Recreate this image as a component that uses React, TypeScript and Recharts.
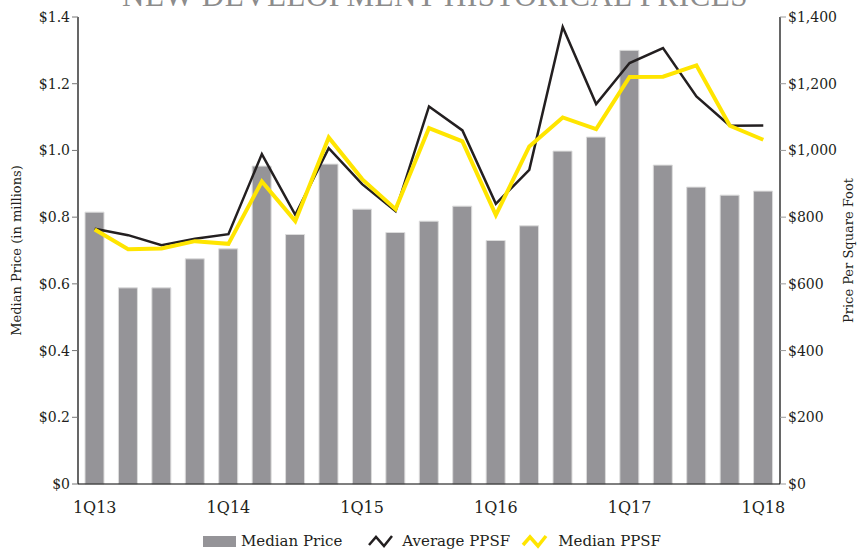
import React from "react";
import { Bar, ComposedChart, Legend, Line, XAxis, YAxis } from "recharts";

// quarterly values, 1Q13 .. 1Q18
const quarters = [
  "1Q13", "2Q13", "3Q13", "4Q13",
  "1Q14", "2Q14", "3Q14", "4Q14",
  "1Q15", "2Q15", "3Q15", "4Q15",
  "1Q16", "2Q16", "3Q16", "4Q16",
  "1Q17", "2Q17", "3Q17", "4Q17",
  "1Q18",
];
const medianPrice = [
  0.815, 0.588, 0.588, 0.675, 0.705, 0.953, 0.748, 0.959, 0.824, 0.754, 0.788,
  0.833, 0.73, 0.774, 0.998, 1.04, 1.3, 0.956, 0.89, 0.866, 0.878,
];
const averagePpsf = [
  765, 746, 716, 735, 749, 989, 807, 1007, 899, 818, 1132, 1060, 840, 942, 1370,
  1139, 1262, 1307, 1162, 1074, 1075,
];
const medianPpsf = [
  763, 704, 706, 728, 720, 907, 788, 1039, 914, 824, 1067, 1027, 806, 1012, 1099,
  1064, 1220, 1221, 1255, 1074, 1032,
];
const leftTicks = [0, 0.2, 0.4, 0.6, 0.8, 1.0, 1.2, 1.4];
const rightTicks = [0, 200, 400, 600, 800, 1000, 1200, 1400];
const xTicks = ["1Q13", "1Q14", "1Q15", "1Q16", "1Q17", "1Q18"];

const data = quarters.map((q, i) => ({
  name: q,
  medianPrice: medianPrice[i],
  averagePpsf: averagePpsf[i],
  medianPpsf: medianPpsf[i],
}));

const FONT = "'DejaVu Serif', 'Liberation Serif', serif";
const TITLE_FONT = "'Liberation Serif', serif";
const TEXT = "#231f20";
const BAR = "#959498";
const BLACK = "#231f20";
const YELLOW = "#ffe500";

const Zigzag = ({ color, width }: { color: string; width: number }) => (
  <svg width={30} height={18} style={{ verticalAlign: "middle" }}>
    <path d="M3,13 L10,5 L18,14 L26,4" fill="none" stroke={color} strokeWidth={width} />
  </svg>
);

const renderLegend = () => (
  <div
    style={{
      display: "flex",
      justifyContent: "center",
      alignItems: "center",
      fontFamily: FONT,
      fontSize: 15,
      color: TEXT,
      marginTop: 12,
    }}
  >
    <span style={{ display: "inline-block", width: 33, height: 11, background: BAR, marginRight: 5 }} />
    <span style={{ marginRight: 24 }}>Median Price</span>
    <Zigzag color={BLACK} width={2.5} />
    <span style={{ marginLeft: 6, marginRight: 10 }}>Average PPSF</span>
    <Zigzag color={YELLOW} width={3.5} />
    <span style={{ marginLeft: 8 }}>Median PPSF</span>
  </div>
);

export default function App() {
  return (
    <div style={{ position: "absolute", left: 0, top: 0, width: 864, height: 550, background: "#fff", overflow: "hidden" }}>
      <div
        style={{
          position: "absolute",
          left: 0,
          width: 870,
          top: -22,
          textAlign: "center",
          fontFamily: TITLE_FONT,
          fontSize: 31,
          color: "#8c8c8c",
          letterSpacing: 0.5,
          whiteSpace: "nowrap",
        }}
      >
        NEW DEVELOPMENT HISTORICAL PRICES
      </div>
      <ComposedChart
        width={864}
        height={550}
        data={data}
        margin={{ top: 17, right: 20, left: 20, bottom: 0 }}
        barCategoryGap="40%"
      >
        <XAxis
          dataKey="name"
          ticks={xTicks}
          interval={0}
          tickLine={false}
          axisLine={{ stroke: "#000", strokeWidth: 1.2 }}
          tick={{ fontFamily: FONT, fontSize: 16, fill: TEXT }}
          tickMargin={12}
          height={36}
        />
        <YAxis
          yAxisId="left"
          domain={[0, 1.4]}
          ticks={leftTicks}
          width={58}
          tickSize={6}
          tickLine={{ stroke: "#777" }}
          axisLine={{ stroke: "#000", strokeWidth: 1.2 }}
          tick={{ fontFamily: FONT, fontSize: 14, fill: TEXT }}
          tickFormatter={(v: number) => (v === 0 ? "$0" : `$${v.toFixed(1)}`)}
          label={{
            value: "Median Price (in millions)",
            angle: -90,
            position: "insideLeft",
            offset: -4,
            style: { fontFamily: FONT, fontSize: 13, fill: TEXT, textAnchor: "middle" },
          }}
        />
        <YAxis
          yAxisId="right"
          orientation="right"
          domain={[0, 1400]}
          ticks={rightTicks}
          width={64}
          tickSize={6}
          tickLine={{ stroke: "#999" }}
          axisLine={{ stroke: "#000", strokeWidth: 1.2 }}
          tick={{ fontFamily: FONT, fontSize: 14, fill: TEXT, textAnchor: "start" }}
          tickFormatter={(v: number) => `$${v.toLocaleString("en-US")}`}
          label={{
            value: "Price Per Square Foot",
            angle: -90,
            position: "insideRight",
            offset: -4,
            style: { fontFamily: FONT, fontSize: 13, fill: TEXT, textAnchor: "middle" },
          }}
        />
        <Legend verticalAlign="bottom" height={30} content={renderLegend} />
        <Bar
          yAxisId="left"
          dataKey="medianPrice"
          fill={BAR}
          stroke="#dcdcdc"
          strokeWidth={1}
          barSize={19}
          isAnimationActive={false}
        />
        <Line
          yAxisId="right"
          type="linear"
          dataKey="averagePpsf"
          stroke={BLACK}
          strokeWidth={2.5}
          dot={false}
          activeDot={false}
          isAnimationActive={false}
        />
        <Line
          yAxisId="right"
          type="linear"
          dataKey="medianPpsf"
          stroke={YELLOW}
          strokeWidth={4}
          dot={false}
          activeDot={false}
          isAnimationActive={false}
        />
      </ComposedChart>
    </div>
  );
}
